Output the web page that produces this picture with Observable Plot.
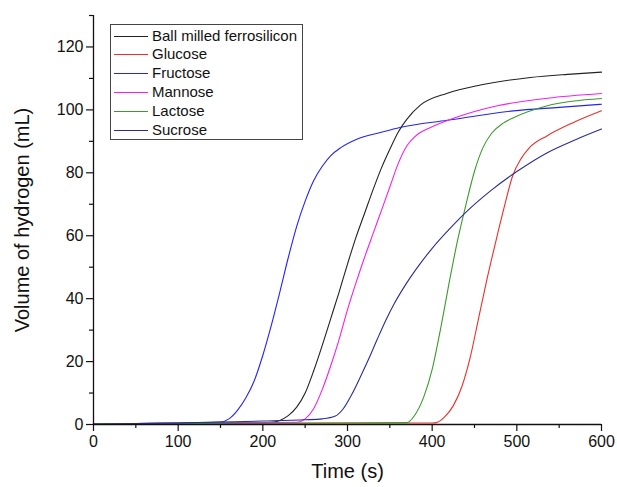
<!DOCTYPE html>
<html>
<head>
<meta charset="utf-8">
<script src="https://cdn.jsdelivr.net/npm/d3@7"></script>
<script src="https://cdn.jsdelivr.net/npm/@observablehq/plot@0.6"></script>
<style>
  html, body { margin: 0; padding: 0; background: #fff; }
  #wrap { position: relative; width: 617px; height: 487px; font-family: "Liberation Sans", Arial, sans-serif; }
  #legend { position: absolute; left: 110px; top: 24px; width: 191px; height: 114px; border: 1px solid #444; background: #fff; }
  .sw { position: absolute; left: 3px; width: 34px; height: 1px; }
  .lt { position: absolute; left: 41px; font-size: 15px; line-height: 18px; color: #111; white-space: nowrap; }
</style>
</head>
<body>
<div id="wrap"></div>
<script>
// ---- data ----
const seriesNames = ["Ball milled ferrosilicon", "Glucose", "Fructose", "Mannose", "Lactose", "Sucrose"];
const seriesColors = ["#222222", "#e8302a", "#2323f5", "#f020f0", "#3c9a2c", "#2b2b96"];

const ballT = [0, 50, 100, 150, 200, 210, 220, 230, 240, 250, 260, 270, 280, 290, 300, 310, 320, 330, 340, 350, 360, 370, 386, 418, 457, 516, 560, 600];
const ballV = [0.2, 0.3, 0.4, 0.5, 0.6, 0.7, 1.3, 2.8, 5.5, 10, 17, 25, 33.5, 42, 51, 59.5, 67, 74.5, 81.5, 87.5, 93, 97, 101.5, 105.3, 107.9, 110.3, 111.3, 112];

const glucoseT = [0, 100, 200, 300, 400, 405, 415, 425, 435, 445, 455, 465, 475, 485, 495, 505, 515, 536, 567, 600];
const glucoseV = [0.2, 0.3, 0.4, 0.5, 0.5, 0.6, 2.5, 6, 12, 21.4, 34, 46.5, 58, 69, 79, 84.5, 88, 91.8, 96, 99.7];

const fructoseT = [0, 50, 100, 150, 160, 170, 180, 190, 200, 210, 220, 230, 240, 250, 260, 270, 280, 292, 311, 339, 362, 418, 496, 550, 600];
const fructoseV = [0.2, 0.3, 0.5, 0.8, 1.8, 4.5, 8.5, 14, 22, 31.5, 42, 53, 63, 71, 77.5, 82, 85.4, 88, 90.7, 92.8, 94.4, 96.7, 99.7, 100.8, 101.8];

const mannoseT = [0, 100, 200, 240, 250, 260, 270, 280, 290, 300, 310, 320, 330, 340, 350, 360, 370, 380, 398, 426, 477, 536, 600];
const mannoseV = [0.2, 0.4, 0.6, 0.7, 1.8, 5, 11, 18.5, 27, 36.5, 45, 53, 60.5, 68, 75.5, 83, 88.5, 91.6, 94.4, 97.4, 101.3, 103.7, 105.2];

const lactoseT = [0, 100, 200, 300, 370, 380, 390, 400, 410, 420, 430, 440, 450, 460, 470, 484, 496, 536, 600];
const lactoseV = [0.2, 0.3, 0.4, 0.5, 0.6, 3.2, 8.7, 17.5, 30.5, 45, 58.5, 70, 80.5, 88, 92.5, 95.8, 97.5, 101.3, 103.6];

const sucroseT = [0, 50, 100, 150, 200, 250, 270, 285, 295, 305, 315, 325, 335, 345, 355, 370, 385, 400, 420, 440, 470, 500, 536, 570, 600];
const sucroseV = [0.1, 0.3, 0.5, 0.8, 1.1, 1.5, 1.8, 2.6, 5, 9.5, 15, 20.8, 27, 33, 38.3, 45, 50.8, 56, 62, 67.5, 74.5, 80.4, 86.4, 90.6, 93.9];

const xMajorTicks = [0, 100, 200, 300, 400, 500, 600];
const xMinorTicks = [50, 150, 250, 350, 450, 550];
const yMajorTicks = [0, 20, 40, 60, 80, 100, 120];
const yMinorTicks = [10, 30, 50, 70, 90, 110, 130];
const xLabel = "Time (s)";
const yLabel = "Volume of hydrogen (mL)";

// ---- build table ----
const seriesT = [ballT, glucoseT, fructoseT, mannoseT, lactoseT, sucroseT];
const seriesV = [ballV, glucoseV, fructoseV, mannoseV, lactoseV, sucroseV];
const rows = [];
seriesNames.forEach((name, i) => {
  seriesT[i].forEach((t, j) => rows.push({series: name, t, v: seriesV[i][j]}));
});

const font = "'Liberation Sans', Arial, sans-serif";

const chart = Plot.plot({
  width: 617,
  height: 487,
  marginLeft: 93,
  marginRight: 16,
  marginTop: 15,
  marginBottom: 63,
  style: {fontFamily: font, fontSize: "16px", color: "#111", background: "#fff"},
  x: {domain: [0, 600]},
  y: {domain: [0, 130]},
  color: {domain: seriesNames, range: seriesColors},
  marks: [
    Plot.line(rows, {x: "t", y: "v", z: "series", stroke: "series", strokeWidth: 1.1, curve: "monotone-x"}),
    Plot.ruleY([0], {stroke: "#111", strokeWidth: 1.3}),
    Plot.ruleX([0], {stroke: "#111", strokeWidth: 1.3}),
    Plot.axisX(xMajorTicks, {tickSize: 7, tickPadding: 4, fontSize: 16, label: null, stroke: "#111", strokeWidth: 1.2}),
    Plot.axisX(xMinorTicks, {tickSize: 4, tickFormat: () => "", label: null, stroke: "#111", strokeWidth: 1.2}),
    Plot.axisY(yMajorTicks, {tickSize: 7, tickPadding: 3, fontSize: 16, label: null, stroke: "#111", strokeWidth: 1.2}),
    Plot.axisY(yMinorTicks, {tickSize: 4, tickFormat: () => "", label: null, stroke: "#111", strokeWidth: 1.2}),
    Plot.text([xLabel], {frameAnchor: "bottom", dy: 47, fontSize: 20, textAnchor: "middle", lineAnchor: "middle", fill: "#111"}),
    Plot.text([yLabel], {frameAnchor: "left", dx: -71, rotate: -90, fontSize: 20, textAnchor: "middle", lineAnchor: "middle", fill: "#111"})
  ]
});

const wrap = document.getElementById("wrap");
wrap.appendChild(chart);

// legend overlay (rows ~18.85px apart)
const legend = document.createElement("div");
legend.id = "legend";
seriesNames.forEach((name, i) => {
  const cy = 10.5 + i * 18.85;
  const sw = document.createElement("div");
  sw.className = "sw";
  sw.style.top = Math.round(cy) + "px";
  sw.style.background = seriesColors[i];
  const tx = document.createElement("div");
  tx.className = "lt";
  tx.style.top = (cy - 9) + "px";
  tx.textContent = name;
  legend.appendChild(sw);
  legend.appendChild(tx);
});
wrap.appendChild(legend);
</script>
</body>
</html>
